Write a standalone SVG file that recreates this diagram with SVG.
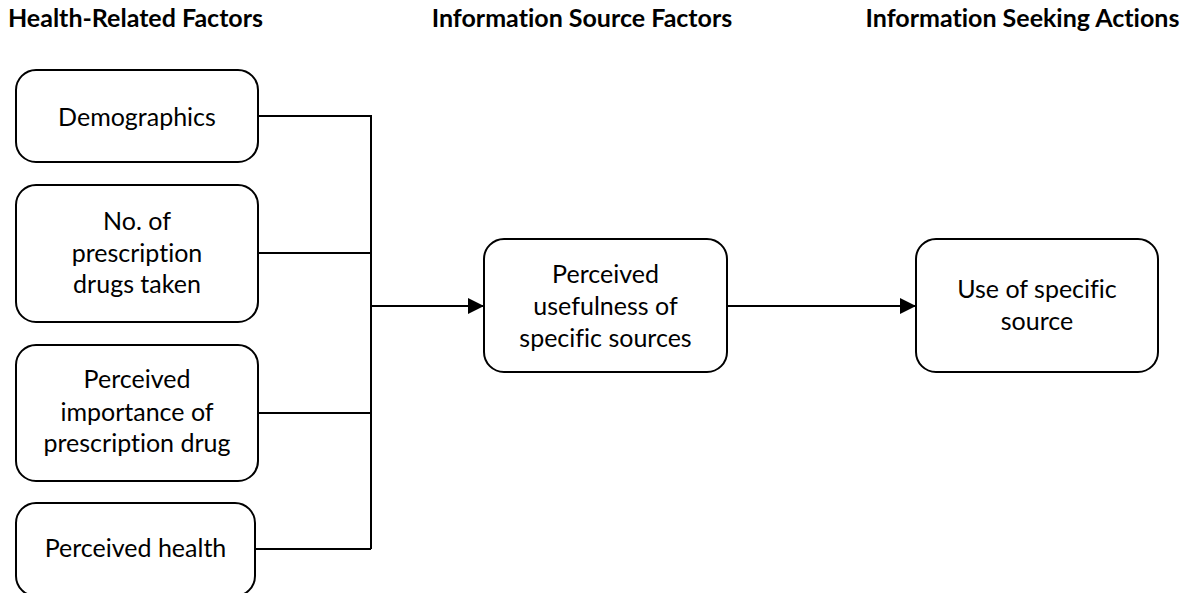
<svg xmlns="http://www.w3.org/2000/svg" width="1192" height="593" viewBox="0 0 1192 593">
  <style>
    .box { fill: #ffffff; stroke: #000000; stroke-width: 2; }
    .label { font-family: Lato, "Open Sans", "Liberation Sans", sans-serif; font-size: 25px; fill: #000000; text-anchor: middle; font-variant-ligatures: none; }
    .head { font-family: Lato, "Open Sans", "Liberation Sans", sans-serif; font-size: 25px; font-weight: bold; fill: #000000; text-anchor: middle; font-variant-ligatures: none; }
    .wire { fill: none; stroke: #000000; stroke-width: 2; }
  </style>
  <defs>
    <marker id="arrow" markerUnits="userSpaceOnUse" markerWidth="16" markerHeight="16" refX="16" refY="8" orient="auto">
      <path d="M0,0 L16,8 L0,16 Z" fill="#000000"/>
    </marker>
  </defs>

  <rect width="1192" height="593" fill="#ffffff"/>

  <!-- column headings -->
  <g id="headings">
    <text class="head" x="135.5" y="27">Health-Related Factors</text>
    <text class="head" x="582" y="27">Information Source Factors</text>
    <text class="head" x="1022.5" y="27">Information Seeking Actions</text>
  </g>

  <!-- connectors -->
  <g id="connectors">
    <path class="wire" d="M258,116 H371 V549"/>
    <path class="wire" d="M258,253 H371"/>
    <path class="wire" d="M258,413 H371"/>
    <path class="wire" d="M255,549 H371"/>
    <path class="wire" d="M371,306 H484" marker-end="url(#arrow)"/>
    <path class="wire" d="M727,306 H916" marker-end="url(#arrow)"/>
  </g>

  <g id="demographics">
    <rect class="box" x="16" y="70" width="242" height="92" rx="20"/>
    <text class="label" x="137" y="126">Demographics</text>
  </g>

  <g id="num-drugs">
    <rect class="box" x="16" y="185" width="242" height="137" rx="20"/>
    <text class="label" x="137" y="230">No. of</text>
    <text class="label" x="137" y="262">prescription</text>
    <text class="label" x="137" y="293">drugs taken</text>
  </g>

  <g id="drug-importance">
    <rect class="box" x="16" y="345" width="242" height="136" rx="20"/>
    <text class="label" x="137" y="388">Perceived</text>
    <text class="label" x="137" y="421">importance of</text>
    <text class="label" x="137" y="452">prescription drug</text>
  </g>

  <g id="perceived-health">
    <rect class="box" x="16" y="503" width="239" height="93" rx="20"/>
    <text class="label" x="135.5" y="557">Perceived health</text>
  </g>

  <g id="source-usefulness">
    <rect class="box" x="484" y="239" width="243" height="133" rx="20"/>
    <text class="label" x="605.5" y="283">Perceived</text>
    <text class="label" x="605.5" y="315">usefulness of</text>
    <text class="label" x="605.5" y="347">specific sources</text>
  </g>

  <g id="source-use">
    <rect class="box" x="916" y="239" width="242" height="133" rx="20"/>
    <text class="label" x="1037" y="298">Use of specific</text>
    <text class="label" x="1037" y="330">source</text>
  </g>
</svg>
